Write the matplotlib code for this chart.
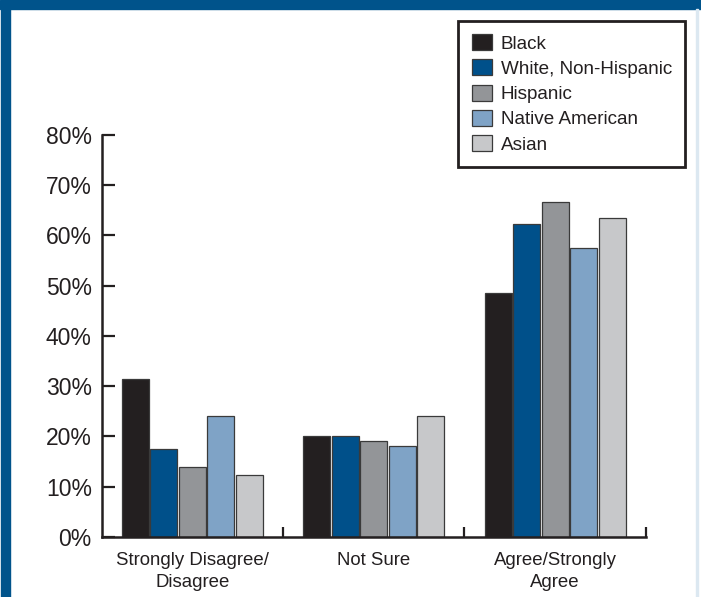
import matplotlib.pyplot as plt
from matplotlib.patches import Rectangle
import numpy as np

plt.rcParams['font.family'] = ['Liberation Sans', 'DejaVu Sans']

# data
categories = ["Strongly Disagree/\nDisagree", "Not Sure", "Agree/Strongly\nAgree"]
groups = ["Black", "White, Non-Hispanic", "Hispanic", "Native American", "Asian"]
black = [31.4, 20.0, 48.5]
white = [17.5, 20.0, 62.3]
hispanic = [13.9, 19.2, 66.7]
native = [24.1, 18.1, 57.6]
asian = [12.3, 24.1, 63.5]
colors = ['#231f20', '#00508a', '#939598', '#7fa3c6', '#c7c8ca']
yticks = [0, 10, 20, 30, 40, 50, 60, 70, 80]

series = [black, white, hispanic, native, asian]
txt = '#231f20'

fig = plt.figure(figsize=(7.01, 5.97), dpi=100)
ax = fig.add_axes([0.1448, 0.1005, 0.7767, 0.6735])

x = np.arange(len(categories))
w = 0.157
for i, vals in enumerate(series):
    ax.bar(x + (i - 2) * w, vals, width=w * 0.94, color=colors[i],
           edgecolor='#3a3a3a', linewidth=0.9, label=groups[i], zorder=2)

ax.set_xlim(-0.5, 2.5)
ax.set_ylim(0, 80)
ax.set_yticks(yticks)
ax.set_yticklabels([f"{v}%" for v in yticks], fontsize=16.5, color=txt)
ax.set_xticks(x)
ax.set_xticklabels(categories, fontsize=13.4, color=txt, linespacing=1.33)
ax.set_xticks([0.5, 1.5, 2.5], minor=True)
ax.tick_params(axis='x', which='major', length=0, pad=11)
ax.tick_params(axis='x', which='minor', direction='in', length=7.5, width=1.6, color=txt)
ax.tick_params(axis='y', direction='in', length=9.5, width=1.6, color=txt, pad=7)

for s in ['top', 'right']:
    ax.spines[s].set_visible(False)
for s in ['left', 'bottom']:
    ax.spines[s].set_linewidth(1.8)
    ax.spines[s].set_color(txt)

leg = fig.legend(loc='upper left', bbox_to_anchor=(0.654, 0.965), borderaxespad=0,
                 fontsize=13.6, fancybox=False, framealpha=1, edgecolor=txt,
                 handlelength=1.08, handleheight=0.92, handletextpad=0.45,
                 labelspacing=0.36, borderpad=0.7)
leg.get_frame().set_linewidth(2)
for t in leg.get_texts():
    t.set_color(txt)

# blue frame
fig.patches.append(Rectangle((0, 1 - 9 / 597), 1, 9 / 597, transform=fig.transFigure,
                             color='#00538b', zorder=5))
fig.patches.append(Rectangle((1 / 701, 0), 9 / 701, 1, transform=fig.transFigure,
                             color='#00538b', zorder=5))
fig.patches.append(Rectangle((696 / 701, 0), 2 / 701, 1 - 9 / 597, transform=fig.transFigure,
                             color='#dce8f1', zorder=5))

fig.savefig('out.png', dpi=100)
